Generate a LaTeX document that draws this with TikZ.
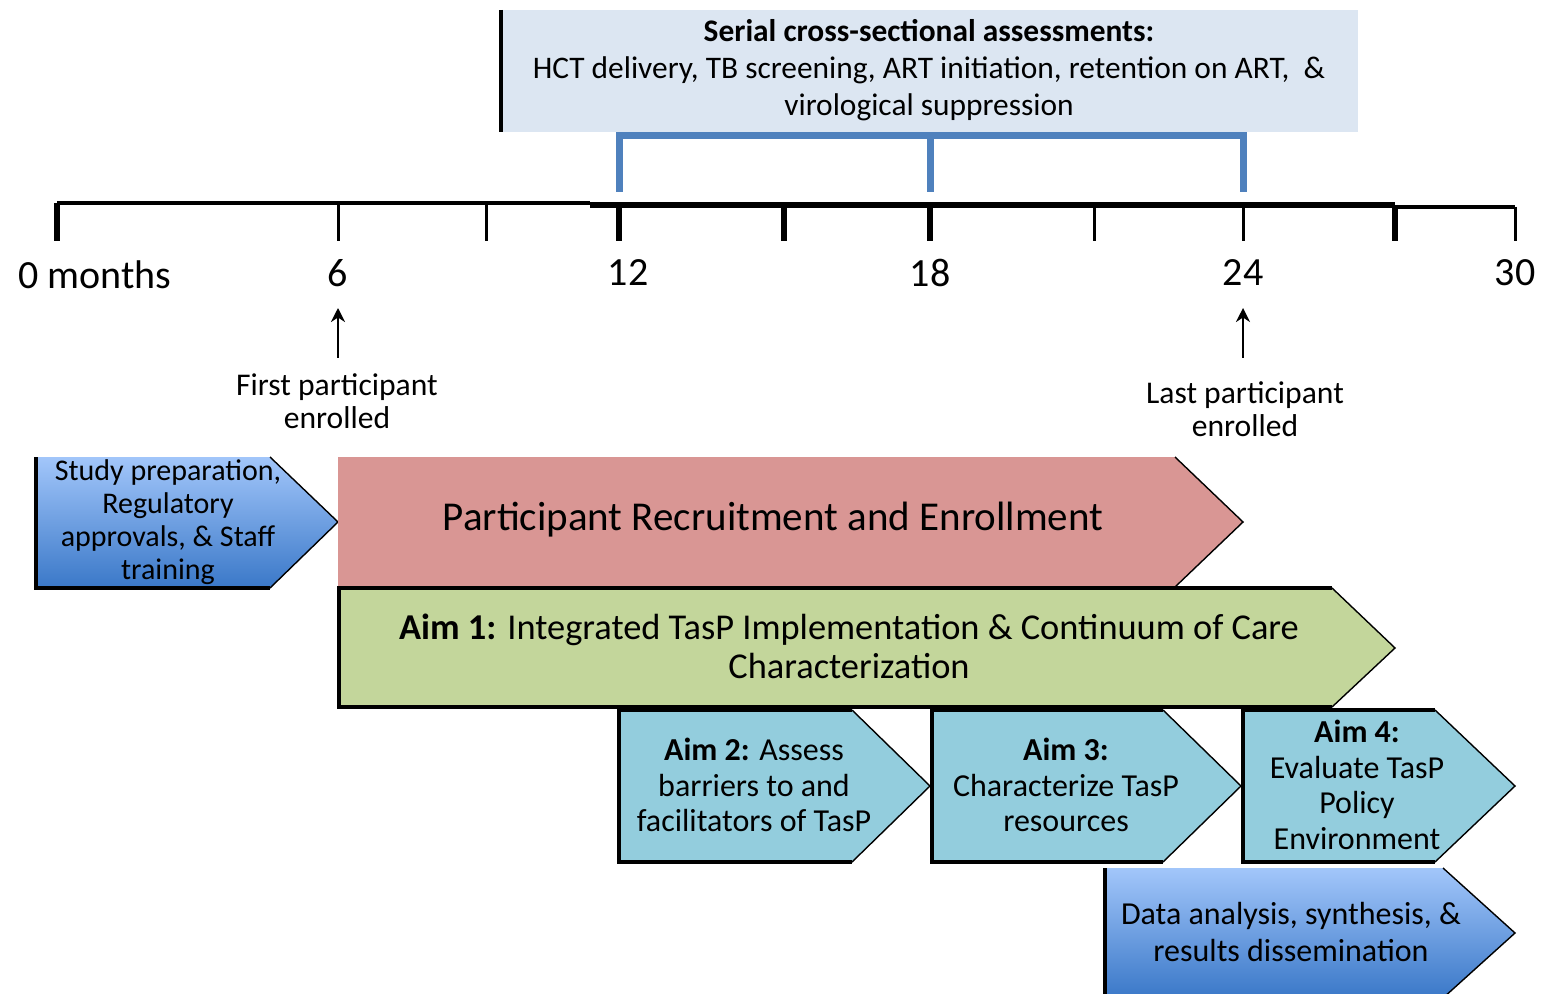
\documentclass[tikz,border=0pt]{standalone}
\usepackage{fontspec}
\setmainfont{Carlito}
\usetikzlibrary{arrows.meta}
\definecolor{boxgray}{HTML}{DCE6F2}
\definecolor{bracketblue}{HTML}{4F81BD}
\definecolor{recruitpink}{HTML}{D99694}
\definecolor{aimgreen}{HTML}{C3D69B}
\definecolor{aimteal}{HTML}{93CDDD}
\definecolor{gradtop}{HTML}{A2C6FA}
\definecolor{gradbot}{HTML}{3A78C8}
\newcommand\fsz[2]{\fontsize{#1}{#2}\selectfont}
\begin{document}
\begin{tikzpicture}[x=0.5pt,y=-0.5pt,
  edge/.style={line width=0.7pt,line join=miter},
  heavy/.style={line width=1.8pt},
  axis/.style={line width=2pt},
  tickthick/.style={line width=3pt},
  tickthin/.style={line width=1.5pt},
  lbl/.style={inner sep=0pt,align=center},
  timelbl/.style={lbl,font=\fsz{20}{24}},
  notelbl/.style={lbl,font=\fsz{15.8}{16.5}},
  boxtxt/.style={lbl,font=\fsz{15}{16.5}},
  aimtxt/.style={lbl,font=\fsz{16}{17.8}},
  bluegrad/.style={top color=gradtop,bottom color=gradbot},
  uparrow/.style={line width=1.4pt,-{Stealth[length=7pt,width=7pt]}}]
\useasboundingbox (0,0) rectangle (1546,994);

% ---- assessments box and bracket ----
\fill[boxgray] (500,10) rectangle (1358,132);
\draw[heavy] (501,10) -- (501,132);
\node[lbl,font=\fsz{15.7}{18.5}] (assess) at (929,70)
  {\textbf{Serial cross-sectional assessments:}\\
   HCT delivery, TB screening, ART initiation, retention on ART,~~\&\\
   virological suppression};
\coordinate (b12) at (619,192);
\coordinate (b18) at (930,192);
\coordinate (b24) at (1243,192);
\draw[bracketblue,line width=3.5pt] (b12) |- (b24 |- 0,136) -- (b24);
\draw[bracketblue,line width=3.5pt] (b18) -- (b18 |- 0,136);

% ---- timeline ----
\coordinate (t0) at (57,203);
\coordinate (t6) at (338,203);
\coordinate (t9) at (486,203);
\coordinate (t12) at (619,205);
\coordinate (t15) at (784,205);
\coordinate (t18) at (930,205);
\coordinate (t21) at (1094,205);
\coordinate (t24) at (1243,205);
\coordinate (t27) at (1395,205);
\coordinate (t30) at (1515,207);
\draw[axis] (t0) -- (590,203);
\draw[line width=2.6pt] (590,205) -- (t27);
\draw[line width=1.6pt] (t27 |- t30) -- (t30);
\foreach \c in {t0,t12,t15,t18,t27}
  \draw[tickthick] (\c) -- (\c |- 0,241);
\foreach \c in {t6,t9,t21,t24,t30}
  \draw[tickthin] (\c) -- (\c |- 0,241);
\node[timelbl] (l0)  at (95,275)   {0 months};
\node[timelbl] (l6)  at (338,273)  {6};
\node[timelbl] (l12) at (628,273)  {12};
\node[timelbl] (l18) at (930,273)  {18};
\node[timelbl] (l24) at (1243,273) {24};
\node[timelbl] (l30) at (1515,273) {30};

% ---- enrollment markers ----
\node[notelbl] (first) at (337,401) {First participant\\enrolled};
\node[notelbl] (last)  at (1245,409) {Last participant\\enrolled};
\coordinate (fa) at (338,308);
\coordinate (la) at (1243,308);
\draw[uparrow] (338,358) -- (fa);
\draw[uparrow] (1243,358) -- (la);

% ---- study preparation ----
\fill[bluegrad] (35,457) -- (270,457) -- (338,522) -- (270,588) -- (35,588) -- cycle;
\draw[edge] (270,457) -- (338,522) -- (270,588);
\draw[heavy] (36,457) -- (36,588) -- (270,588);
\node[boxtxt] (prep) at (168,522)
  {Study preparation,\\Regulatory\\approvals, \& Staff\\training};

% ---- participant recruitment ----
\fill[recruitpink] (338,457) -- (1175,457) -- (1243,522) -- (1175,587) -- (338,587) -- cycle;
\draw[edge] (1175,457) -- (1243,522) -- (1175,587);
\node[lbl,font=\fsz{20.5}{24}] (recruit) at (773,520)
  {Participant Recruitment and Enrollment};

% ---- aim 1 ----
\fill[aimgreen] (338,588) -- (1332,588) -- (1395,648) -- (1332,707) -- (338,707) -- cycle;
\draw[edge] (1332,588) -- (1395,648) -- (1332,707);
\draw[heavy] (1332,588) -- (339,588) -- (339,707) -- (1332,707);
\node[lbl,font=\fsz{18.2}{19.5}] (aim1) at (849,646)
  {\textbf{Aim 1:} Integrated TasP Implementation \& Continuum of Care\\Characterization};

% ---- aims 2-4 ----
\fill[aimteal] (618,710) -- (852,710) -- (930,786) -- (852,862) -- (618,862) -- cycle;
\draw[edge] (852,710) -- (930,786) -- (852,862);
\draw[heavy] (852,710) -- (619,710) -- (619,862) -- (852,862);
\node[aimtxt] (aim2) at (754,785)
  {\textbf{Aim 2:} Assess\\barriers to and\\facilitators of TasP};

\fill[aimteal] (931,710) -- (1163,710) -- (1241,786) -- (1163,862) -- (931,862) -- cycle;
\draw[edge] (1163,710) -- (1241,786) -- (1163,862);
\draw[heavy] (1163,710) -- (932,710) -- (932,862) -- (1163,862);
\node[aimtxt] (aim3) at (1066,785)
  {\textbf{Aim 3:}\\Characterize TasP\\resources};

\fill[aimteal] (1242,710) -- (1435,710) -- (1515,786) -- (1435,862) -- (1242,862) -- cycle;
\draw[edge] (1435,710) -- (1515,786) -- (1435,862);
\draw[heavy] (1435,710) -- (1243,710) -- (1243,862) -- (1435,862);
\node[aimtxt] (aim4) at (1357,785)
  {\textbf{Aim 4:}\\Evaluate TasP\\Policy\\Environment};

% ---- data analysis ----
\fill[bluegrad] (1104,868) -- (1443,868) -- (1515,933) -- (1443,998) -- (1104,998) -- cycle;
\draw[edge] (1443,868) -- (1515,933) -- (1443,998);
\draw[heavy] (1105,868) -- (1105,998);
\node[boxtxt,font=\fsz{16}{18.5}] (data) at (1291,932)
  {Data analysis, synthesis, \&\\results dissemination};
\end{tikzpicture}
\end{document}
